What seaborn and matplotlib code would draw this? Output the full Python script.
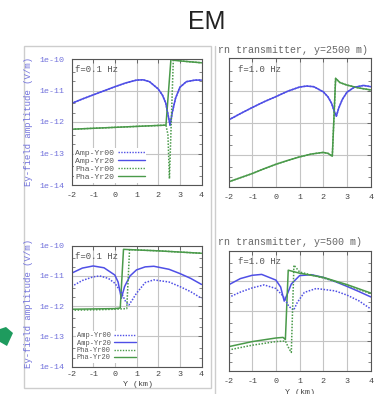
import numpy as np
import pandas as pd
import seaborn as sns
import matplotlib
matplotlib.use("Agg")
import matplotlib.pyplot as plt
from matplotlib.patches import Polygon
from matplotlib.lines import Line2D

# ---- profile data: Y position (km) and log10 of the plotted value ----
# f = 0.1 Hz, y = 2500 m
tl_amp_x = [-2, -1.5, -1, -0.5, 0, 0.5, 1, 1.3, 1.6, 2, 2.2, 2.35, 2.45, 2.55, 2.65, 2.8, 3, 3.3, 3.7, 4]
tl_amp_log = [-11.41, -11.27, -11.14, -11.01, -10.88, -10.76, -10.67, -10.66, -10.72, -10.95, -11.15,
              -11.4, -11.75, -12.1, -11.7, -11.25, -10.9, -10.72, -10.67, -10.67]
tl_pha20_x = [-2, -1, 0, 1, 2, 2.36, 2.59, 2.7, 3, 4]
tl_pha20_log = [-12.23, -12.2, -12.17, -12.14, -12.11, -12.1, -10.0, -10.04, -10.06, -10.12]
tl_pha00_x = [-2, -1, 0, 1, 2, 2.36, 2.45, 2.52, 2.7, 3, 4]
tl_pha00_log = [-12.23, -12.2, -12.17, -12.14, -12.11, -12.1, -12.4, -13.8, -10.0, -10.06, -10.12]

# f = 1.0 Hz, y = 2500 m
tr_amp_x = [-2, -1.5, -1, -0.5, 0, 0.5, 1, 1.3, 1.6, 2, 2.2, 2.35, 2.45, 2.55, 2.65, 2.8, 3, 3.3, 3.7, 4]
tr_amp_log = [-11.92, -11.72, -11.53, -11.35, -11.19, -11.02, -10.89, -10.86, -10.88, -11.04, -11.2,
              -11.4, -11.62, -11.8, -11.55, -11.28, -11.05, -10.9, -10.84, -10.88]
tr_pha_x = [-2, -1.5, -1, -0.5, 0, 0.5, 1, 1.5, 2, 2.2, 2.38, 2.52, 2.7, 3, 3.5, 4]
tr_pha_log = [-13.85, -13.72, -13.59, -13.44, -13.3, -13.18, -13.07, -12.98, -12.93, -12.96, -13.05,
              -10.62, -10.75, -10.83, -10.92, -10.98]

# f = 0.1 Hz, y = 500 m
bl_amp20_x = [-2, -1.5, -1, -0.5, 0, 0.15, 0.3, 0.45, 0.7, 1, 1.4, 1.8, 2.5, 3, 3.5, 4]
bl_amp20_log = [-10.91, -10.74, -10.67, -10.73, -10.97, -11.2, -11.74, -11.35, -11.0, -10.8, -10.7,
                -10.68, -10.78, -10.92, -11.08, -11.28]
bl_amp00_x = [-2, -1.5, -1, -0.7, -0.3, 0, 0.3, 0.5, 0.65, 0.8, 1, 1.4, 1.8, 2.5, 3, 3.5, 4]
bl_amp00_log = [-11.35, -11.15, -11.03, -11.0, -11.08, -11.24, -11.55, -11.85, -11.96, -11.8, -11.57,
                -11.22, -11.13, -11.2, -11.35, -11.52, -11.74]
bl_pha20_x = [-2, -1, 0, 0.25, 0.4, 1, 2, 3, 4]
bl_pha20_log = [-12.1, -12.09, -12.08, -12.06, -10.12, -10.14, -10.17, -10.21, -10.25]
bl_pha00_x = [-2, -1, 0, 0.55, 0.68, 1, 2, 3, 4]
bl_pha00_log = [-12.13, -12.12, -12.1, -12.08, -10.13, -10.14, -10.17, -10.21, -10.25]

# f = 1.0 Hz, y = 500 m
br_amp20_x = [-2, -1.5, -1, -0.6, 0, 0.2, 0.35, 0.5, 0.65, 1, 1.5, 2, 2.5, 3, 3.5, 4]
br_amp20_log = [-11.13, -10.92, -10.81, -10.78, -10.97, -11.2, -11.67, -11.4, -11.1, -10.82, -10.79,
                -10.88, -11.02, -11.18, -11.35, -11.53]
br_amp00_x = [-2, -1.5, -1, -0.5, 0, 0.3, 0.55, 0.75, 0.9, 1.2, 1.7, 2.5, 3, 3.5, 4]
br_amp00_log = [-11.55, -11.37, -11.23, -11.13, -11.25, -11.5, -11.85, -11.97, -11.72, -11.38, -11.25,
                -11.33, -11.47, -11.66, -11.93]
br_pha20_x = [-2, -1, 0, 0.3, 0.4, 0.52, 1, 2, 3, 4]
br_pha20_log = [-13.19, -13.02, -12.9, -12.88, -12.95, -10.64, -10.74, -10.88, -11.12, -11.4]
br_pha00_x = [-2, -1, 0, 0.4, 0.55, 0.65, 0.76, 1, 2, 3, 4]
br_pha00_log = [-13.3, -13.14, -13.02, -13.0, -13.25, -13.38, -10.47, -10.7, -10.9, -11.14, -11.42]

x_ticks = [-2, -1, 0, 1, 2, 3, 4]
y_ticks = [1e-14, 1e-13, 1e-12, 1e-11, 1e-10]
y_ticklabels = ["1e-14", "1e-13", "1e-12", "1e-11", "1e-10"]
series_labels = ["Amp-Yr00", "Amp-Yr20", "Pha-Yr00", "Pha-Yr20"]

# ---- styling ----
sns.set_style("white")
plt.rcParams["font.family"] = ["Liberation Mono", "DejaVu Sans Mono"]

W, H = 384, 394
fig = plt.figure(figsize=(W / 100, H / 100), dpi=100)
fig.patch.set_facecolor("white")

BLUE = "#4f4fe6"
GREEN = "#4a9a4a"
LABEL_BLUE = "#7272dc"
TEXT_GRAY = "#555555"
GRID = "#c4c4c4"
BORDER = "#cdcdcd"
DOT = (0, (1.0, 1.0))


def px_axes(left, right, top, bottom):
    return fig.add_axes([left / W, 1 - bottom / H, (right - left) / W, (bottom - top) / H])


def to_df(xs, logs):
    return pd.DataFrame({"Y": xs, "val": np.power(10.0, np.asarray(logs))})


def style_axes(ax, show_ylabels):
    ax.set_yscale("log")
    ax.set_xlim(-2, 4)
    ax.set_ylim(1e-14, 1e-10)
    ax.set_xticks(x_ticks)
    ax.set_xticklabels([str(t) for t in x_ticks])
    ax.set_yticks(y_ticks)
    ax.yaxis.set_minor_locator(matplotlib.ticker.LogLocator(base=10, subs=[2.0, 4.0]))
    ax.yaxis.set_minor_formatter(matplotlib.ticker.NullFormatter())
    if show_ylabels:
        ax.set_yticklabels(y_ticklabels)
    else:
        ax.set_yticklabels([])
    ax.grid(True, which="major", color=GRID, linewidth=0.8)
    ax.set_axisbelow(True)
    for s in ax.spines.values():
        s.set_color("#555555")
        s.set_linewidth(0.8)
    ax.tick_params(axis="both", which="major", direction="in", length=3, width=0.6,
                   top=True, right=True, color="#555555", labelsize=6)
    ax.tick_params(axis="both", which="minor", direction="in", length=2, width=0.5,
                   top=False, right=True, left=True, color="#555555")
    ax.tick_params(axis="x", pad=5, labelcolor="#444444")
    ax.tick_params(axis="y", pad=5, labelcolor=LABEL_BLUE)
    ax.set_xlabel("")
    ax.set_ylabel("")


def draw(ax, amp00, amp20, pha00, pha20):
    sns.lineplot(data=to_df(*amp20), x="Y", y="val", ax=ax, color=BLUE, linewidth=1.1,
                 label=series_labels[1])
    sns.lineplot(data=to_df(*pha20), x="Y", y="val", ax=ax, color=GREEN, linewidth=1.1,
                 label=series_labels[3])
    sns.lineplot(data=to_df(*amp00), x="Y", y="val", ax=ax, color=BLUE, linewidth=1.1,
                 linestyle=DOT, label=series_labels[0])
    sns.lineplot(data=to_df(*pha00), x="Y", y="val", ax=ax, color=GREEN, linewidth=1.1,
                 linestyle=DOT, label=series_labels[2])
    ax.get_legend().remove()


def add_legend(ax, fontsize, spacing, axpad):
    handles = [
        Line2D([], [], color=BLUE, linewidth=1.0, linestyle=DOT),
        Line2D([], [], color=BLUE, linewidth=1.0),
        Line2D([], [], color=GREEN, linewidth=1.0, linestyle=DOT),
        Line2D([], [], color=GREEN, linewidth=1.0),
    ]
    leg = ax.legend(handles, series_labels, loc="lower left", fontsize=fontsize,
                    markerfirst=False, handlelength=3.2, handletextpad=0.5,
                    labelspacing=spacing, borderpad=0.15, borderaxespad=axpad,
                    frameon=True, fancybox=False)
    leg.get_frame().set_facecolor("white")
    leg.get_frame().set_edgecolor("none")
    leg.get_frame().set_alpha(1.0)
    for t in leg.get_texts():
        t.set_color(TEXT_GRAY)


# ---- panel frames from the slide ----
fig.add_artist(plt.Rectangle((24 / W, 1 - 388 / H), (211 - 24) / W, (388 - 46) / H,
                             transform=fig.transFigure, fill=False, edgecolor=BORDER, linewidth=1.0))
fig.add_artist(Line2D([214.5 / W, 214.5 / W], [1 - 46 / H, 0], transform=fig.transFigure,
                      color=BORDER, linewidth=1.0))

# slide title
fig.text(207 / W, 1 - 29 / H, "EM", fontsize=18, family="Liberation Sans", color="#222222",
         ha="center", va="baseline")

# arrow tip at the left edge of the slide
fig.add_artist(Polygon([(0, 1 - 329 / H), (6 / W, 1 - 327 / H), (13 / W, 1 - 333 / H),
                        (7 / W, 1 - 346 / H), (0, 1 - 342 / H)], closed=True,
                       transform=fig.transFigure, facecolor="#1e9b5e", edgecolor="none"))

# ---- top left: f = 0.1 Hz ----
ax_tl = px_axes(71.5, 201.5, 59, 185)
draw(ax_tl, (tl_amp_x, tl_amp_log), (tl_amp_x, tl_amp_log),
     (tl_pha00_x, tl_pha00_log), (tl_pha20_x, tl_pha20_log))
style_axes(ax_tl, True)
add_legend(ax_tl, 5.9, 0.05, 0.3)
ax_tl.text(0.03, 0.95, "f=0.1 Hz", transform=ax_tl.transAxes, fontsize=6.5, color=TEXT_GRAY,
           ha="left", va="top")
fig.text(28.5 / W, 1 - 122 / H, "Ey-field amplitude (V/m)", rotation=90, fontsize=6.5,
         color=LABEL_BLUE, ha="center", va="center")

# ---- top right: f = 1.0 Hz ----
ax_tr = px_axes(228.5, 370.7, 58.5, 186.7)
draw(ax_tr, (tr_amp_x, tr_amp_log), (tr_amp_x, tr_amp_log),
     (tr_pha_x, tr_pha_log), (tr_pha_x, tr_pha_log))
style_axes(ax_tr, False)
ax_tr.text(0.07, 0.95, "f=1.0 Hz", transform=ax_tr.transAxes, fontsize=6.5, color=TEXT_GRAY,
           ha="left", va="top")
fig.text(218 / W, 1 - 50 / H, "rn transmitter, y=2500 m)", fontsize=7.2, color="#666666",
         ha="left", va="center")

# ---- bottom left: f = 0.1 Hz ----
ax_bl = px_axes(71.5, 201.5, 245.7, 366.7)
draw(ax_bl, (bl_amp00_x, bl_amp00_log), (bl_amp20_x, bl_amp20_log),
     (bl_pha00_x, bl_pha00_log), (bl_pha20_x, bl_pha20_log))
style_axes(ax_bl, True)
add_legend(ax_bl, 5.0, 0.05, 0.6)
ax_bl.text(0.03, 0.95, "f=0.1 Hz", transform=ax_bl.transAxes, fontsize=6.5, color=TEXT_GRAY,
           ha="left", va="top")
ax_bl.tick_params(axis="x", pad=3)
fig.text(28.5 / W, 1 - 304 / H, "Ey-field amplitude (V/m)", rotation=90, fontsize=6.5,
         color=LABEL_BLUE, ha="center", va="center")
fig.text(138 / W, 1 - 384 / H, "Y (km)", fontsize=6, color="#444444", ha="center", va="center")

# ---- bottom right: f = 1.0 Hz ----
ax_br = px_axes(228.5, 370.7, 251, 371)
draw(ax_br, (br_amp00_x, br_amp00_log), (br_amp20_x, br_amp20_log),
     (br_pha00_x, br_pha00_log), (br_pha20_x, br_pha20_log))
style_axes(ax_br, False)
ax_br.text(0.07, 0.95, "f=1.0 Hz", transform=ax_br.transAxes, fontsize=6.5, color=TEXT_GRAY,
           ha="left", va="top")
fig.text(218 / W, 1 - 242 / H, "rn transmitter, y=500 m)", fontsize=7.2, color="#666666",
         ha="left", va="center")
fig.text(300 / W, 1 - 392 / H, "Y (km)", fontsize=6, color="#444444", ha="center", va="center")

fig.savefig("out.png", dpi=100, facecolor="white")
